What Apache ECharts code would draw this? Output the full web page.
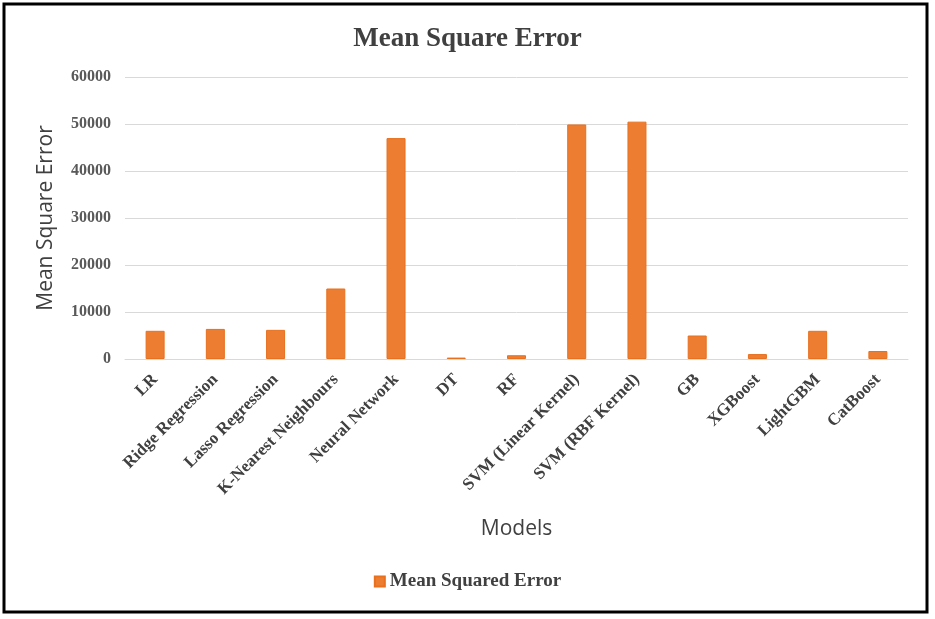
<!DOCTYPE html>
<html>
<head>
<meta charset="utf-8">
<script src="https://cdn.jsdelivr.net/npm/echarts@6/dist/echarts.min.js"></script>
<style>
  html, body { margin: 0; padding: 0; background: #fff; }
  #chart { width: 935px; height: 619px; }
</style>
</head>
<body>
<div id="chart"></div>
<script>
const models = ['LR', 'Ridge Regression', 'Lasso Regression', 'K-Nearest Neighbours',
    'Neural Network', 'DT', 'RF', 'SVM (Linear Kernel)', 'SVM (RBF Kernel)',
    'GB', 'XGBoost', 'LightGBM', 'CatBoost'];
const mse = [6000, 6400, 6200, 15000, 47000, 300, 800, 49900, 50500, 5000, 1050, 6000, 1700];
const yTicks = [0, 10000, 20000, 30000, 40000, 50000, 60000];

const serif = '"Liberation Serif", "DejaVu Serif", serif';
const sans = '"Open Sans", "Liberation Sans", sans-serif';

const chart = echarts.init(document.getElementById('chart'));
chart.setOption({
    animation: false,
    title: {
        text: 'Mean Square Error',
        left: 'center',
        top: 21,
        textStyle: { fontFamily: serif, fontSize: 27, fontWeight: 'bold', color: '#404040' }
    },
    legend: {
        bottom: 23,
        left: 'center',
        itemWidth: 10,
        itemHeight: 10,
        itemGap: 6,
        icon: 'rect',
        textStyle: { fontFamily: serif, fontSize: 19, fontWeight: 'bold', color: '#404040' }
    },
    grid: { left: 125, right: 27, top: 77, bottom: 260 },
    xAxis: {
        type: 'category',
        data: models,
        name: 'Models',
        nameLocation: 'middle',
        nameGap: 160,
        nameTextStyle: { fontFamily: sans, fontSize: 21, color: '#404040' },
        axisLine: { lineStyle: { color: '#d9d9d9' } },
        axisTick: { show: false },
        axisLabel: {
            rotate: 45,
            interval: 0,
            margin: 18,
            fontFamily: serif,
            fontSize: 17,
            fontWeight: 'bold',
            color: '#404040'
        }
    },
    yAxis: {
        type: 'value',
        min: yTicks[0],
        max: yTicks[yTicks.length - 1],
        interval: 10000,
        name: 'Mean Square Error',
        nameLocation: 'middle',
        nameGap: 68,
        nameTextStyle: { fontFamily: sans, fontSize: 21, color: '#404040' },
        axisLabel: {
            margin: 14,
            fontFamily: serif,
            fontSize: 16,
            fontWeight: 'bold',
            color: '#595959',
            formatter: v => String(v)
        },
        splitLine: { lineStyle: { color: '#d9d9d9' } }
    },
    series: [
        {
            name: 'Mean Squared Error',
            type: 'bar',
            data: mse,
            barWidth: 19,
            itemStyle: { color: '#ED7D31', borderColor: '#E8701F', borderWidth: 1 }
        }
    ],
    graphic: [
        {
            type: 'rect',
            shape: { x: 4, y: 4, width: 923, height: 608 },
            style: { fill: 'none', stroke: '#000', lineWidth: 3 }
        }
    ]
});
</script>
</body>
</html>
